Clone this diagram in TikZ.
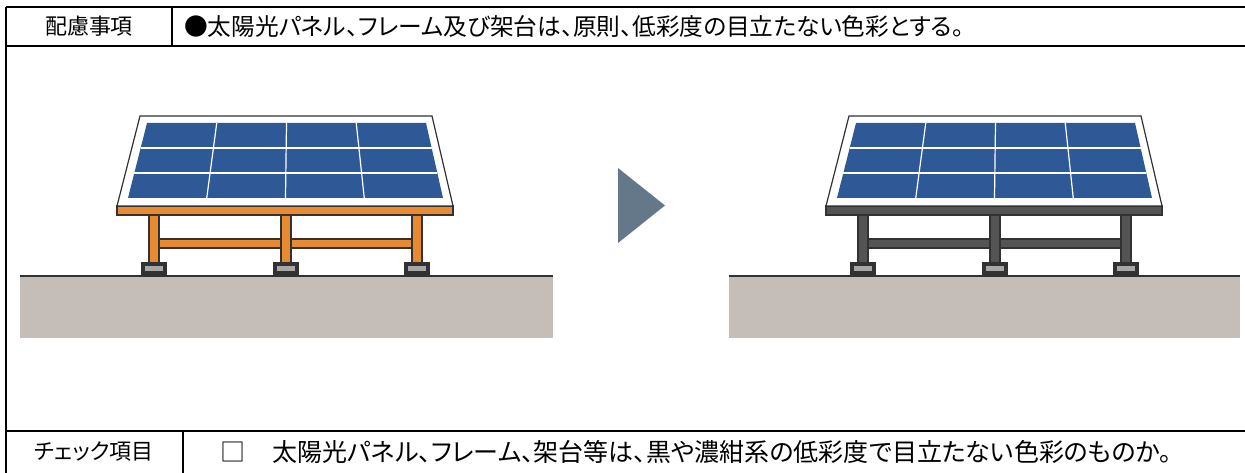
\documentclass[tikz,border=0pt]{standalone}
\usepackage{fontspec}
\setmainfont{Noto Sans CJK JP}[RawFeature=+palt]
\usetikzlibrary{positioning}

\definecolor{pvBlue}{RGB}{46,88,150}
\definecolor{pvOrange}{RGB}{232,138,50}
\definecolor{pvSteel}{RGB}{84,84,84}
\definecolor{pvEdge}{RGB}{50,50,50}
\definecolor{pvFoot}{RGB}{168,168,168}
\definecolor{pvGround}{RGB}{197,190,184}
\definecolor{pvArrow}{RGB}{100,120,138}

\tikzset{
  rule/.style={line width=2.4pt, black},
  cellfont/.style={font=\fontsize{#1}{#1}\selectfont, inner sep=0pt},
  cellfont/.default=22,
  member/.style={draw=pvEdge, line width=1.2pt},
}

% one mounted module: #1 shift, #2 frame colour, #3 right end of ground
\newcommand{\solarstand}[3]{%
  \begin{scope}[xshift=#1]
    % ground
    \fill[pvGround] (20,276) rectangle (#3,338);
    \draw[pvEdge, line width=1.6pt] (20,276) -- (#3,276);
    % cross beams
    \draw[member, fill=#2] (159,239) rectangle (281,248);
    \draw[member, fill=#2] (291,239) rectangle (412,248);
    % legs and feet
    \foreach \lx in {154,286,417} {
      \draw[member, fill=#2] (\lx-5,215) rectangle (\lx+5,263);
      \draw[member, fill=pvEdge] (\lx-12,263) rectangle (\lx+12,276);
      \fill[pvFoot] (\lx-9,266) rectangle (\lx+9,271);
    }
    % frame bar under the module
    \draw[member, fill=#2] (117,206) rectangle (453,215);
    % module with cells
    \draw[member, fill=white] (140,116) -- (432,116) -- (453,206) -- (117,206) -- cycle;
    \fill[pvBlue] (147,123) -- (426,123) -- (443,198) -- (128,198) -- cycle;
    \foreach \f in {0.25,0.5,0.75}
      \draw[white, line width=1.2pt] ({147+279*\f},123) -- ({128+315*\f},198);
    \foreach \f in {0.3333,0.6667}
      \draw[white, line width=1.2pt] ({147-19*\f},{123+75*\f}) -- ({426+17*\f},{123+75*\f});
  \end{scope}}

\begin{document}
\begin{tikzpicture}[x=1pt, y=-1pt]
    \useasboundingbox (0,0) rectangle (1245,473);

    % table rules
    \draw[rule] (6,7) -- (1245,7);
    \draw[rule] (6,46) -- (1245,46);
    \draw[rule] (6,431) -- (1245,431);
    \draw[rule] (6,7) -- (6,473);
    \draw[rule] (172,7) -- (172,46);
    \draw[rule] (183,431) -- (183,473);

    % header row
    \node[cellfont] (hdrlabel) at (89,26) {配慮事項};
    \node[cellfont=23.7, anchor=west] (hdrtext) at (184,26) {●太陽光パネル、フレーム及び架台は、原則、低彩度の目立たない色彩とする。};

    % before and after
    \solarstand{0pt}{pvOrange}{553}
    \solarstand{709pt}{pvSteel}{531}
    \fill[pvArrow] (618,168) -- (618,243) -- (665,205.5) -- cycle;

    % check row
    \node[cellfont] (chklabel) at (94,452) {チェック項目};
    \node[cellfont=25, anchor=west] (chktext) at (220,452) {□\hspace{1.1em}太陽光パネル、フレーム、架台等は、黒や濃紺系の低彩度で目立たない色彩のものか。};
\end{tikzpicture}
\end{document}
